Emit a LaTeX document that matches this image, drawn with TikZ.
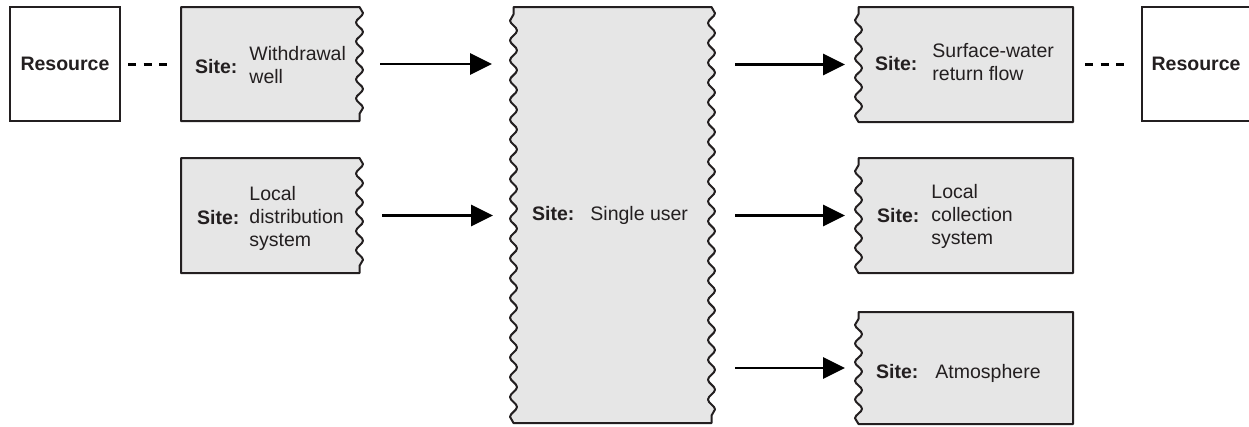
\documentclass[tikz,border=0pt]{standalone}
\usepackage{fontspec}
\setmainfont{Liberation Sans}
\usetikzlibrary{arrows.meta,decorations.pathmorphing}
\definecolor{edge}{HTML}{231F20}
\definecolor{boxgray}{HTML}{E6E6E6}
\definecolor{ink}{HTML}{231F20}
\begin{document}
\begin{tikzpicture}[x=1pt,y=-1pt,
  every node/.style={font=\fontsize{19.5}{23}\selectfont, text=ink},
  area/.style={inner sep=0pt, outer sep=0pt},
  resbox/.style={draw=edge, line width=2pt, fill=white, inner sep=0pt, outer sep=0pt},
  siteshape/.style={draw=edge, fill=boxgray, line width=2pt, line join=round},
  wave/.style={decoration={snake, amplitude=3.5pt, segment length=#1}},
  arr/.style={line width=2.8pt, draw=black, -{Triangle[length=22pt,width=21pt]}},
  dashline/.style={line width=3pt, draw=black, dash pattern=on 8pt off 7.5pt},
  sitelabel/.style={anchor=base west, inner sep=0pt}]
\useasboundingbox (0,0) rectangle (1249,426);

% resource boxes
\node[resbox, minimum width=110pt, minimum height=114pt] (rl) at (65,64) {\textbf{Resource}};
\node[resbox, minimum width=108pt, minimum height=114pt] (rr) at (1196,64) {\textbf{Resource}};

% site areas
\node[area, minimum width=182pt, minimum height=114pt] (ww) at (272,64) {};
\node[area, minimum width=182pt, minimum height=115pt] (ld) at (272,215.5) {};
\node[area, minimum width=205pt, minimum height=416pt] (su) at (612.5,215) {};
\node[area, minimum width=218pt, minimum height=115pt] (sw) at (964,64.5) {};
\node[area, minimum width=218pt, minimum height=115pt] (lc) at (964,215.5) {};
\node[area, minimum width=218pt, minimum height=112pt] (at) at (964,368) {};

% outlines: wavy right side
\filldraw[siteshape, wave=19pt] (ww.north west) -- ([xshift=-3.5pt]ww.north east)
  decorate {-- ([xshift=-3.5pt]ww.south east)} -- (ww.south west) -- cycle;
\filldraw[siteshape, wave=19.17pt] (ld.north west) -- ([xshift=-3.5pt]ld.north east)
  decorate {-- ([xshift=-3.5pt]ld.south east)} -- (ld.south west) -- cycle;
% both sides
\filldraw[siteshape, wave=19.81pt] ([xshift=3.5pt]su.north west) -- ([xshift=-3.5pt]su.north east)
  decorate {-- ([xshift=-3.5pt]su.south east)} -- ([xshift=3.5pt]su.south west)
  decorate {-- ([xshift=3.5pt]su.north west)} -- cycle;
% wavy left side
\filldraw[siteshape, wave=19.17pt] ([xshift=3.5pt]sw.north west) -- (sw.north east) -- (sw.south east)
  -- ([xshift=3.5pt]sw.south west) decorate {-- ([xshift=3.5pt]sw.north west)} -- cycle;
\filldraw[siteshape, wave=19.17pt] ([xshift=3.5pt]lc.north west) -- (lc.north east) -- (lc.south east)
  -- ([xshift=3.5pt]lc.south west) decorate {-- ([xshift=3.5pt]lc.north west)} -- cycle;
\filldraw[siteshape, wave=18.67pt] ([xshift=3.5pt]at.north west) -- (at.north east) -- (at.south east)
  -- ([xshift=3.5pt]at.south west) decorate {-- ([xshift=3.5pt]at.north west)} -- cycle;

% labels
\node[sitelabel] (wwt) at (195,73) {\textbf{Site:}\hspace{12pt}\begin{tabular}{@{}l@{}}Withdrawal\\well\end{tabular}};
\node[sitelabel] (ldt) at (197,224) {\textbf{Site:}\hspace{10pt}\begin{tabular}{@{}l@{}}Local\\distribution\\system\end{tabular}};
\node[sitelabel] (sut) at (532,220) {\textbf{Site:}\hspace{16pt}Single user};
\node[sitelabel] (swt) at (875,70) {\textbf{Site:}\hspace{15pt}\begin{tabular}{@{}l@{}}Surface-water\\return flow\end{tabular}};
\node[sitelabel] (lct) at (877,222) {\textbf{Site:}\hspace{12pt}\begin{tabular}{@{}l@{}}Local\\collection\\system\end{tabular}};
\node[sitelabel] (att) at (876,378) {\textbf{Site:}\hspace{17pt}Atmosphere};

% dashed links
\draw[dashline, shorten <=8pt, shorten >=13pt] (rl.east) -- (ww.west);
\draw[dashline, shorten <=12pt, shorten >=17pt] (sw.east) -- (sw.east -| rr.west);

% arrows
\draw[arr, shorten <=17pt, shorten >=18pt] (ww.east) -- (ww.east -| su.west);
\draw[arr, shorten <=19pt, shorten >=17pt] (ld.east) -- (ld.east -| su.west);
\draw[arr, shorten <=20pt, shorten >=10pt] (sw.west -| su.east) -- (sw.west);
\draw[arr, shorten <=20pt, shorten >=10pt] (lc.west -| su.east) -- (lc.west);
\draw[arr, shorten <=20pt, shorten >=10pt] (at.west -| su.east) -- (at.west);
\end{tikzpicture}
\end{document}
